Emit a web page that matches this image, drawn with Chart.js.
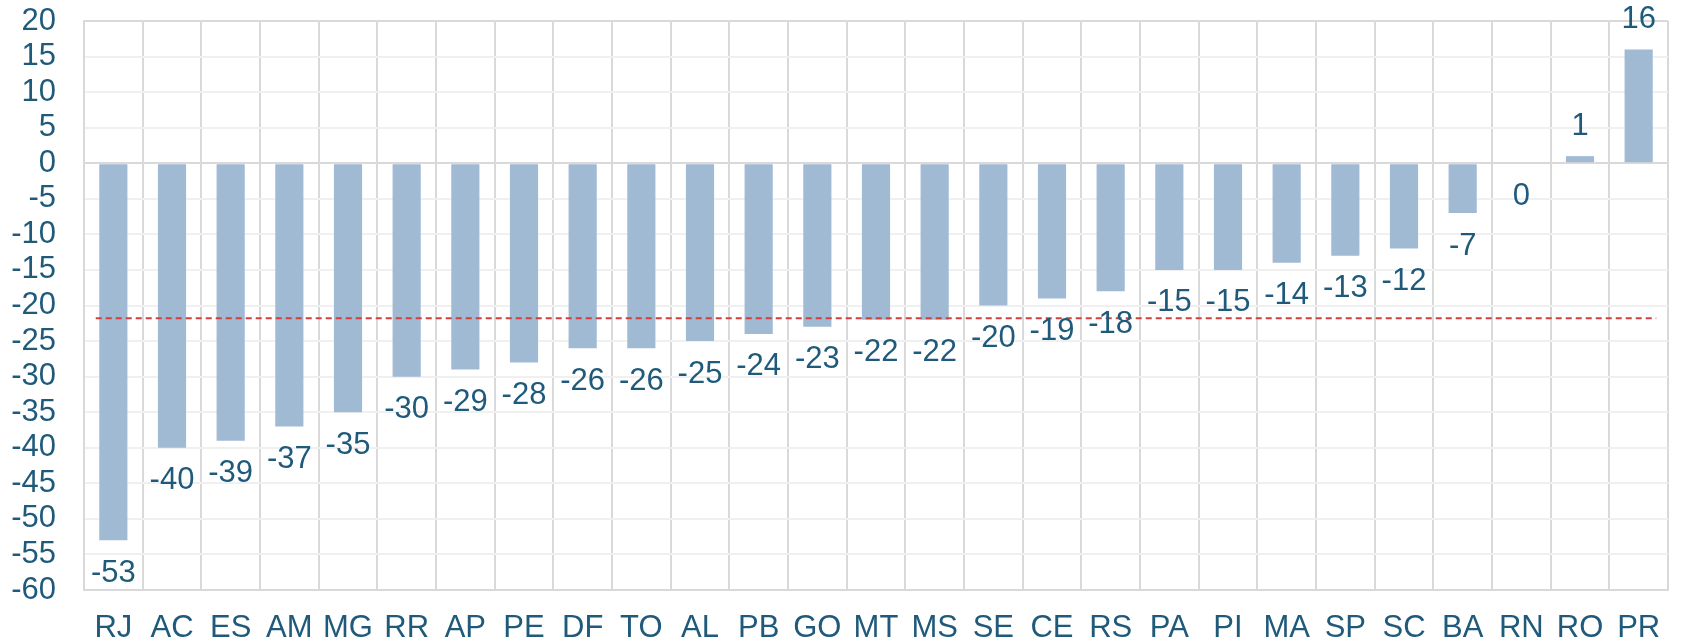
<!DOCTYPE html>
<html>
<head>
<meta charset="utf-8">
<script src="https://cdn.jsdelivr.net/npm/chart.js@4.4.1/dist/chart.umd.min.js"></script>
<style>
  html, body { margin: 0; padding: 0; background: #ffffff; }
  #wrap { width: 1688px; height: 641px; position: relative; }
</style>
</head>
<body>
<div id="wrap"><canvas id="chart"></canvas></div>
<script>
// Unidades da federação, ordenadas da maior queda para a maior alta
const states = ['RJ','AC','ES','AM','MG','RR','AP','PE','DF','TO','AL','PB','GO','MT','MS',
                'SE','CE','RS','PA','PI','MA','SP','SC','BA','RN','RO','PR'];
const changes = [-53,-40,-39,-37,-35,-30,-29,-28,-26,-26,-25,-24,-23,-22,-22,
                 -20,-19,-18,-15,-15,-14,-13,-12,-7,0,1,16];

// Referência nacional (linha tracejada) e seu alcance horizontal em posições de categoria
const brazilLevel = -21.8;
const brazilSpan = [-0.3, 26.3];

// Eixo vertical
const yMin = -60;
const yMax = 20;
const yStep = 5;

const TEXT = '#1f5a7b';
const FONT = "Arial, 'Liberation Sans', sans-serif";
const GRID_DARK = '#d9d9d9';
const GRID_LIGHT = '#f0f0f0';

// Rótulos de valor sob/sobre cada barra
const valueLabels = {
  id: 'valueLabels',
  afterDatasetsDraw(chart) {
    const meta = chart.getDatasetMeta(0);
    const ctx = chart.ctx;
    ctx.save();
    ctx.font = '31px ' + FONT;
    ctx.fillStyle = TEXT;
    ctx.textAlign = 'center';
    ctx.textBaseline = 'middle';
    meta.data.forEach((bar, i) => {
      const v = changes[i];
      const y = v > 0 ? bar.y - 30 : bar.y + 33;
      ctx.fillText(String(v), bar.x, y);
    });
    ctx.restore();
  }
};

new Chart(document.getElementById('chart'), {
  type: 'bar',
  data: {
    labels: states,
    datasets: [
      {
        type: 'bar',
        data: changes,
        backgroundColor: '#a0bad3',
        borderWidth: 0,
        grouped: false,
        categoryPercentage: 1,
        barPercentage: 0.48,
        xAxisID: 'x',
        yAxisID: 'y',
        order: 1
      },
      {
        type: 'line',
        data: brazilSpan.map(x => ({ x, y: brazilLevel })),
        borderColor: '#d0413d',
        borderWidth: 2,
        borderDash: [6, 4],
        pointRadius: 0,
        fill: false,
        xAxisID: 'x2',
        yAxisID: 'y',
        order: 0
      }
    ]
  },
  options: {
    responsive: true,
    maintainAspectRatio: false,
    animation: false,
    layout: { padding: { top: 21, right: 20, bottom: 0, left: 0 } },
    plugins: {
      legend: { display: false },
      tooltip: { enabled: false },
      title: { display: false }
    },
    scales: {
      x: {
        type: 'category',
        grid: { offset: true, color: GRID_DARK, lineWidth: 2, drawTicks: false },
        border: { display: true, color: GRID_DARK, width: 2 },
        ticks: { color: TEXT, font: { family: FONT, size: 31 }, padding: 20, maxRotation: 0, autoSkip: false },
        afterFit(s) { s.height = 51; s.paddingLeft = 0; s.paddingRight = 0; }
      },
      x2: {
        type: 'linear',
        position: 'bottom',
        offset: false,
        min: -0.5,
        max: states.length - 0.5,
        display: false
      },
      y: {
        min: yMin,
        max: yMax,
        ticks: { stepSize: yStep, color: TEXT, font: { family: FONT, size: 31, lineHeight: 1 }, padding: 28 },
        grid: {
          drawTicks: false,
          lineWidth: 2,
          color: c => (c.tick && (c.tick.value === 0 || c.tick.value === yMax || c.tick.value === yMin)) ? GRID_DARK : GRID_LIGHT
        },
        border: { display: true, color: GRID_DARK, width: 2 },
        afterFit(s) { s.width = 84; s.paddingTop = 0; s.paddingBottom = 0; }
      }
    }
  },
  plugins: [valueLabels]
});
</script>
</body>
</html>
